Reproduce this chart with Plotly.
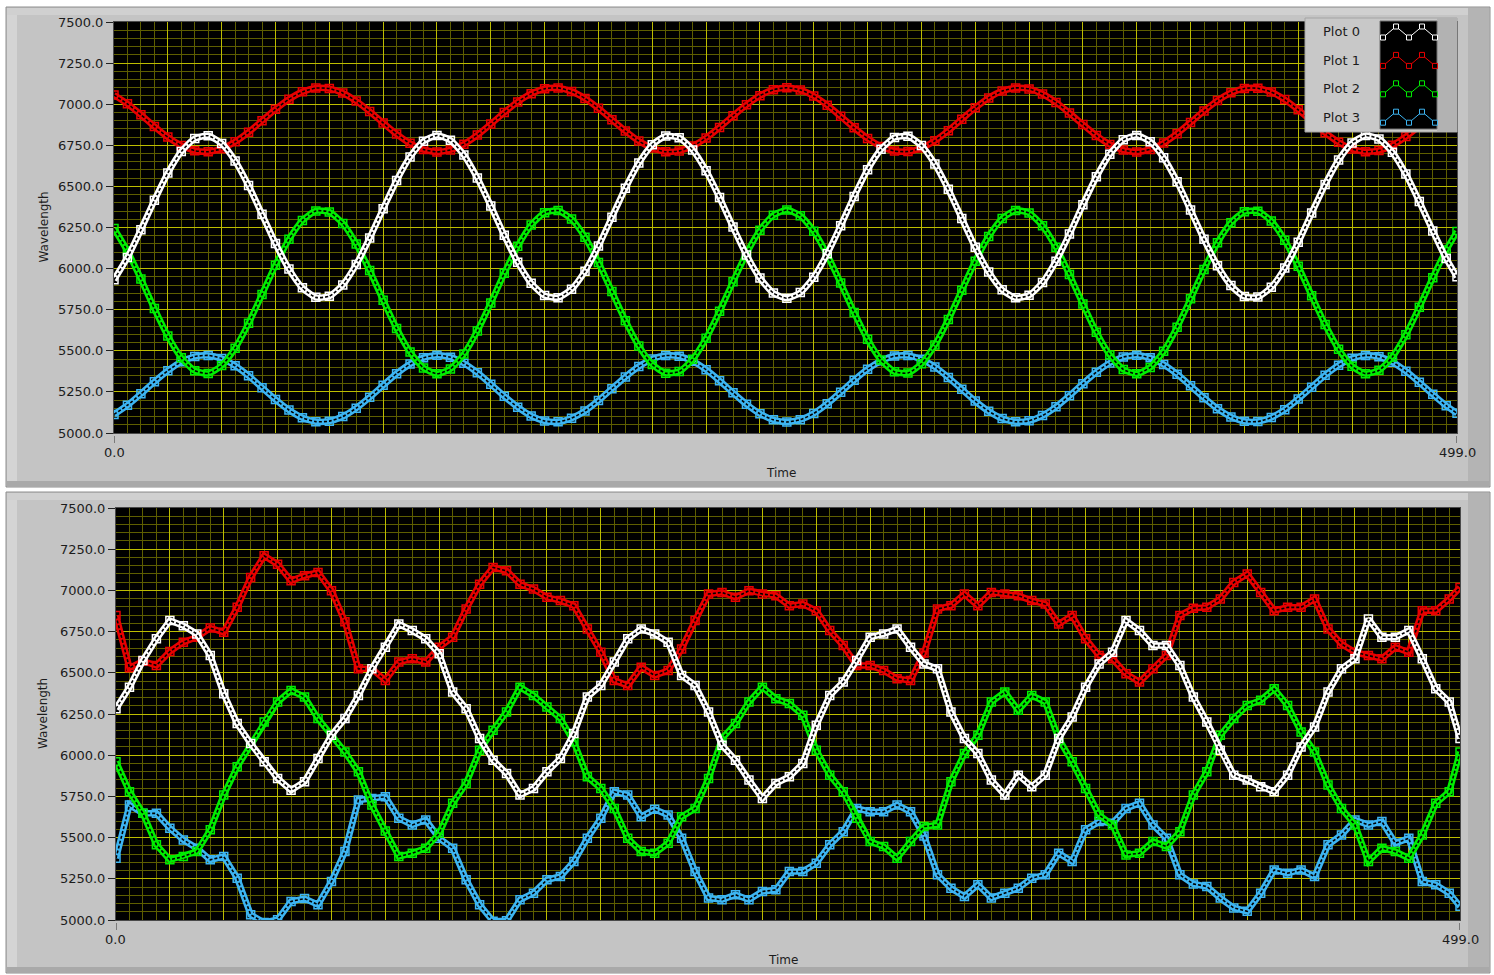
import plotly.graph_objects as go

# ---------------- data ----------------
TIME = [0, 5, 10, 15, 20, 25, 30, 35, 40, 45,
        50, 55, 60, 65, 70, 75, 80, 85, 90, 95,
        100, 105, 110, 115, 120, 125, 130, 135, 140, 145,
        150, 155, 160, 165, 170, 175, 180, 185, 190, 195,
        200, 205, 210, 215, 220, 225, 230, 235, 240, 245,
        250, 255, 260, 265, 270, 275, 280, 285, 290, 295,
        300, 305, 310, 315, 320, 325, 330, 335, 340, 345,
        350, 355, 360, 365, 370, 375, 380, 385, 390, 395,
        400, 405, 410, 415, 420, 425, 430, 435, 440, 445,
        450, 455, 460, 465, 470, 475, 480, 485, 490, 495,
        499]

TOP_PLOT0 = [5932, 6068, 6237, 6415, 6581, 6712, 6791, 6808, 6761, 6655,
             6505, 6330, 6153, 5997, 5883, 5825, 5832, 5901, 6025, 6186,
             6364, 6536, 6679, 6775, 6810, 6781, 6691, 6551, 6381, 6203,
             6039, 5911, 5836, 5823, 5875, 5984, 6137, 6313, 6489, 6642,
             6753, 6806, 6796, 6722, 6595, 6432, 6253, 6083, 5943, 5851,
             5820, 5854, 5948, 6090, 6261, 6439, 6602, 6726, 6797, 6805,
             6749, 6636, 6482, 6305, 6130, 5979, 5871, 5822, 5838, 5915,
             6045, 6210, 6389, 6558, 6696, 6783, 6810, 6772, 6674, 6529,
             6356, 6178, 6018, 5897, 5830, 5827, 5887, 6003, 6160, 6338,
             6512, 6660, 6764, 6809, 6789, 6707, 6575, 6408, 6229, 6061,
             5950]
TOP_PLOT1 = [7056, 7002, 6936, 6865, 6800, 6749, 6717, 6711, 6729, 6771,
             6830, 6899, 6969, 7030, 7075, 7098, 7095, 7068, 7019, 6956,
             6886, 6818, 6762, 6724, 6710, 6722, 6757, 6812, 6879, 6949,
             7014, 7064, 7094, 7099, 7078, 7035, 6975, 6906, 6837, 6776,
             6733, 6711, 6716, 6745, 6795, 6859, 6929, 6996, 7052, 7088,
             7100, 7087, 7050, 6994, 6926, 6856, 6792, 6743, 6715, 6712,
             6734, 6778, 6839, 6909, 6978, 7038, 7080, 7099, 7093, 7062,
             7011, 6946, 6876, 6809, 6755, 6721, 6710, 6725, 6764, 6821,
             6889, 6959, 7022, 7070, 7096, 7097, 7074, 7028, 6966, 6896,
             6827, 6769, 6728, 6711, 6718, 6750, 6803, 6868, 6939, 7005,
             7049]
TOP_PLOT2 = [6244, 6107, 5937, 5757, 5590, 5458, 5379, 5362, 5410, 5516,
             5667, 5843, 6021, 6178, 6293, 6351, 6344, 6275, 6150, 5988,
             5808, 5635, 5492, 5396, 5360, 5390, 5480, 5620, 5791, 5971,
             6136, 6265, 6340, 6353, 6301, 6191, 6037, 5860, 5683, 5529,
             5417, 5364, 5374, 5448, 5576, 5740, 5920, 6092, 6233, 6325,
             6356, 6322, 6227, 6085, 5912, 5733, 5570, 5444, 5373, 5365,
             5421, 5535, 5690, 5868, 6045, 6196, 6304, 6354, 6338, 6260,
             6130, 5964, 5784, 5613, 5475, 5387, 5360, 5399, 5497, 5643,
             5816, 5995, 6157, 6279, 6346, 6349, 6289, 6172, 6014, 5835,
             5660, 5510, 5406, 5361, 5381, 5463, 5597, 5765, 5945, 6113,
             6225]
TOP_PLOT3 = [5113, 5169, 5238, 5311, 5379, 5433, 5465, 5472, 5453, 5409,
             5348, 5276, 5204, 5140, 5093, 5069, 5072, 5100, 5151, 5217,
             5290, 5361, 5419, 5458, 5473, 5461, 5424, 5367, 5297, 5224,
             5157, 5104, 5073, 5068, 5090, 5134, 5197, 5269, 5341, 5404,
             5450, 5471, 5467, 5437, 5385, 5318, 5245, 5175, 5117, 5080,
             5067, 5081, 5119, 5178, 5248, 5321, 5388, 5439, 5468, 5471,
             5448, 5402, 5338, 5266, 5194, 5132, 5088, 5068, 5074, 5106,
             5159, 5227, 5300, 5370, 5426, 5462, 5473, 5457, 5417, 5358,
             5287, 5214, 5148, 5098, 5071, 5070, 5094, 5142, 5207, 5279,
             5351, 5412, 5454, 5472, 5464, 5431, 5376, 5308, 5235, 5166,
             5120]

BOTTOM_PLOT0 = [6282, 6413, 6575, 6706, 6817, 6786, 6736, 6605, 6373, 6192,
                6071, 5960, 5859, 5788, 5839, 5980, 6121, 6222, 6363, 6524,
                6655, 6796, 6756, 6706, 6615, 6383, 6282, 6101, 5970, 5889,
                5758, 5798, 5899, 5980, 6131, 6353, 6423, 6565, 6706, 6766,
                6736, 6686, 6484, 6423, 6262, 6061, 5970, 5849, 5738, 5829,
                5869, 5950, 6182, 6363, 6444, 6575, 6716, 6736, 6766, 6655,
                6554, 6524, 6262, 6101, 6010, 5849, 5758, 5879, 5809, 5879,
                6101, 6232, 6413, 6554, 6625, 6817, 6756, 6665, 6665, 6544,
                6353, 6202, 6030, 5879, 5849, 5809, 5778, 5879, 6050, 6171,
                6383, 6524, 6585, 6827, 6716, 6716, 6756, 6585, 6403, 6323,
                6101]
BOTTOM_PLOT1 = [6847, 6530, 6570, 6545, 6629, 6686, 6716, 6772, 6746, 6897,
                7079, 7210, 7159, 7058, 7089, 7109, 6998, 6810, 6524, 6524,
                6454, 6565, 6585, 6565, 6655, 6716, 6887, 7038, 7139, 7119,
                7038, 7008, 6958, 6938, 6907, 6766, 6625, 6454, 6423, 6534,
                6484, 6514, 6645, 6817, 6978, 6988, 6958, 6998, 6978, 6968,
                6907, 6917, 6877, 6756, 6665, 6544, 6544, 6514, 6464, 6454,
                6620, 6887, 6907, 6978, 6907, 6988, 6978, 6968, 6938, 6917,
                6796, 6847, 6706, 6605, 6585, 6494, 6444, 6524, 6605, 6847,
                6892, 6897, 6948, 7048, 7099, 6988, 6877, 6897, 6897, 6948,
                6766, 6675, 6625, 6605, 6585, 6655, 6625, 6877, 6877, 6948,
                7018]
BOTTOM_PLOT2 = [5960, 5778, 5647, 5456, 5365, 5385, 5415, 5547, 5758, 5930,
                6061, 6202, 6323, 6393, 6353, 6222, 6121, 6020, 5899, 5698,
                5540, 5385, 5405, 5436, 5526, 5708, 5829, 6030, 6151, 6262,
                6413, 6363, 6292, 6222, 6081, 5869, 5798, 5677, 5496, 5415,
                5405, 5466, 5627, 5677, 5859, 6101, 6192, 6323, 6413, 6343,
                6313, 6242, 6030, 5879, 5778, 5617, 5476, 5446, 5375, 5476,
                5567, 5577, 5839, 6010, 6121, 6323, 6383, 6272, 6363, 6323,
                6101, 5960, 5798, 5637, 5577, 5395, 5405, 5476, 5446, 5536,
                5758, 5899, 6121, 6222, 6302, 6333, 6403, 6302, 6141, 6020,
                5819, 5677, 5577, 5355, 5436, 5415, 5375, 5516, 5708, 5778,
                6020]
BOTTOM_PLOT3 = [5375, 5698, 5647, 5647, 5557, 5486, 5436, 5365, 5385, 5254,
                5032, 4985, 5002, 5113, 5130, 5093, 5234, 5415, 5728, 5738,
                5748, 5617, 5577, 5607, 5496, 5436, 5244, 5093, 4992, 4995,
                5123, 5163, 5244, 5264, 5355, 5496, 5617, 5778, 5758, 5627,
                5672, 5637, 5496, 5294, 5133, 5123, 5153, 5123, 5173, 5183,
                5294, 5294, 5345, 5456, 5536, 5677, 5657, 5657, 5698, 5657,
                5510, 5274, 5193, 5143, 5214, 5133, 5163, 5193, 5254, 5274,
                5405, 5355, 5547, 5597, 5587, 5677, 5708, 5577, 5496, 5274,
                5219, 5203, 5133, 5073, 5053, 5163, 5304, 5284, 5304, 5264,
                5456, 5516, 5607, 5577, 5597, 5466, 5496, 5234, 5214, 5163,
                5083]

SERIES_NAMES = ["Plot 0", "Plot 1", "Plot 2", "Plot 3"]
SERIES_COLORS = ["#ffffff", "#e80000", "#00ee00", "#3db5f2"]
X_RANGE = [0, 499]
X_TICK_LABELS = ["0.0", "499.0"]
Y_RANGE = [5000, 7500]
AXIS_TITLE_X = "Time"
AXIS_TITLE_Y = "Wavelength"
LEGEND_GLYPH_SHAPE = [0, 1, 0, 1, 0]

# ---------------- layout helpers ----------------
W, H = 1494, 975
def fx(p):
    return p / W
def fy(p):
    return 1 - p / H

MAJOR = "#bdbd00"
MINOR = "#5e5e00"
FONT = "DejaVu Sans"
TXT = "#1c1c1c"

fig = go.Figure()

top_series = [TOP_PLOT0, TOP_PLOT1, TOP_PLOT2, TOP_PLOT3]
bottom_series = [BOTTOM_PLOT0, BOTTOM_PLOT1, BOTTOM_PLOT2, BOTTOM_PLOT3]

for axes, data, shape in ((("x", "y"), top_series, "spline"), (("x2", "y2"), bottom_series, "linear")):
    for i in (3, 2, 1, 0):
        # outer band of the "hollow square chain"
        fig.add_trace(go.Scatter(
            x=TIME, y=data[i], name=SERIES_NAMES[i],
            mode="lines+markers",
            line=dict(color=SERIES_COLORS[i], width=6.5, shape=shape, smoothing=0.6),
            marker=dict(symbol="square-open", size=8, color=SERIES_COLORS[i],
                        line=dict(width=1.5, color=SERIES_COLORS[i])),
            xaxis=axes[0], yaxis=axes[1], showlegend=False, hoverinfo="skip"))
        # dark hollow core
        fig.add_trace(go.Scatter(
            x=TIME, y=data[i], name=SERIES_NAMES[i],
            mode="lines",
            line=dict(color="#000000", width=1.6, shape=shape, smoothing=0.6, dash="3px,2px"),
            xaxis=axes[0], yaxis=axes[1], showlegend=False, hoverinfo="skip"))

# plot-area geometry (pixels)
PLOTS = [dict(l=114, r=1457, t=22, b=433, xa="x", ya="y", tx=781, ty=473),
         dict(l=116, r=1460, t=508, b=920, xa="x2", ya="y2", tx=783, ty=960)]
PANELS = [(6, 7, 1490, 487), (6, 492, 1490, 973)]

shapes = []
for (x0, y0, x1, y1) in PANELS:
    shapes.append(dict(type="rect", xref="paper", yref="paper", layer="below",
                       x0=fx(x0), x1=fx(x1), y0=fy(y1), y1=fy(y0),
                       fillcolor="#c4c4c4", line=dict(color="#8e8e8e", width=1)))
    shapes.append(dict(type="rect", xref="paper", yref="paper", layer="below",
                       x0=fx(x0 + 1), x1=fx(x0 + 11), y0=fy(y1 - 1), y1=fy(y0 + 1),
                       fillcolor="#d4d4d4", line=dict(width=0)))
    shapes.append(dict(type="rect", xref="paper", yref="paper", layer="below",
                       x0=fx(x0 + 1), x1=fx(x1 - 1), y0=fy(y0 + 8), y1=fy(y0 + 1),
                       fillcolor="#d0d0d0", line=dict(width=0)))
    shapes.append(dict(type="rect", xref="paper", yref="paper", layer="below",
                       x0=fx(x1 - 22), x1=fx(x1 - 1), y0=fy(y1 - 1), y1=fy(y0 + 1),
                       fillcolor="#b4b4b4", line=dict(width=0)))
    shapes.append(dict(type="rect", xref="paper", yref="paper", layer="below",
                       x0=fx(x0 + 1), x1=fx(x1 - 1), y0=fy(y1 - 1), y1=fy(y1 - 6),
                       fillcolor="#a9a9a9", line=dict(width=0)))
for p in PLOTS:
    shapes.append(dict(type="rect", xref="paper", yref="paper", layer="below",
                       x0=fx(p["l"]), x1=fx(p["r"]), y0=fy(p["b"]), y1=fy(p["t"]),
                       fillcolor="#000000", line=dict(width=0)))
    for xv in X_RANGE:
        shapes.append(dict(type="line", xref=p["xa"], yref=p["ya"] + " domain",
                           ysizemode="pixel", yanchor=0, x0=xv, x1=xv, y0=-3, y1=-10,
                           line=dict(color="#303030", width=1)))

# legend box (drawn above the plot)
LB = dict(l=1305, r=1457, t=18, b=132)
shapes.append(dict(type="rect", xref="paper", yref="paper", layer="above",
                   x0=fx(LB["l"]), x1=fx(LB["r"]), y0=fy(LB["b"]), y1=fy(LB["t"]),
                   fillcolor="#c8c8c8", line=dict(color="#a4a4a4", width=1)))
shapes.append(dict(type="rect", xref="paper", yref="paper", layer="above",
                   x0=fx(1437), x1=fx(LB["r"]), y0=fy(LB["b"]), y1=fy(LB["t"]),
                   fillcolor="#b2b2b2", line=dict(width=0)))
shapes.append(dict(type="rect", xref="paper", yref="paper", layer="above",
                   x0=fx(1380), x1=fx(1437), y0=fy(129), y1=fy(21),
                   fillcolor="#000000", line=dict(color="#707070", width=1)))
annotations = []
gx = [1383 + 13 * k for k in range(len(LEGEND_GLYPH_SHAPE))]
for i, name in enumerate(SERIES_NAMES):
    cy = 32 + 28.4 * i
    gy = [cy + 5.5 - 11 * s for s in LEGEND_GLYPH_SHAPE]
    path = "M " + " L ".join(f"{fx(a):.5f},{fy(b):.5f}" for a, b in zip(gx, gy))
    shapes.append(dict(type="path", xref="paper", yref="paper", layer="above",
                       path=path, line=dict(color=SERIES_COLORS[i], width=1)))
    for a, b in zip(gx, gy):
        shapes.append(dict(type="rect", xref="paper", yref="paper", layer="above",
                           x0=fx(a - 2.5), x1=fx(a + 2.5), y0=fy(b + 2.5), y1=fy(b - 2.5),
                           fillcolor="#000000", line=dict(color=SERIES_COLORS[i], width=1)))
    annotations.append(dict(text=name, xref="paper", yref="paper", x=fx(1341), y=fy(cy),
                            showarrow=False, xanchor="center", yanchor="middle",
                            font=dict(family=FONT, size=13, color=TXT)))

for p in PLOTS:
    annotations.append(dict(text=AXIS_TITLE_X, xref="paper", yref="paper",
                            x=fx(p["tx"]), y=fy(p["ty"]), showarrow=False,
                            xanchor="center", yanchor="middle",
                            font=dict(family=FONT, size=12, color=TXT)))
    annotations.append(dict(text=AXIS_TITLE_Y, xref="paper", yref="paper",
                            x=fx(43), y=fy((p["t"] + p["b"]) / 2), showarrow=False,
                            textangle=-90, xanchor="center", yanchor="middle",
                            font=dict(family=FONT, size=12, color=TXT)))
    for xv, lab in zip(X_RANGE, X_TICK_LABELS):
        annotations.append(dict(text=lab, xref=p["xa"], yref="paper", x=xv,
                                y=fy(p["b"] + 19), showarrow=False,
                                xanchor="center", yanchor="middle",
                                font=dict(family=FONT, size=13, color=TXT)))

def xax(p):
    return dict(domain=[fx(p["l"]), fx(p["r"])], range=X_RANGE, anchor=p["ya"],
                automargin=False,
                tickmode="linear", tick0=0, dtick=20, showticklabels=False, ticks="",
                showgrid=True, gridcolor=MAJOR, gridwidth=1, zeroline=False,
                minor=dict(tickmode="linear", tick0=0, dtick=5, showgrid=True,
                           gridcolor=MINOR, gridwidth=1, ticks=""),
                showline=True, linecolor="#4a4a4a", linewidth=1, mirror=True)

def yax(p):
    return dict(domain=[fy(p["b"]), fy(p["t"])], range=Y_RANGE, anchor=p["xa"],
                automargin=False,
                tickmode="linear", tick0=5000, dtick=250, tickformat=".1f",
                ticks="outside", ticklen=7, tickcolor="#222222", tickwidth=1,
                tickfont=dict(family=FONT, size=13, color=TXT),
                showgrid=True, gridcolor=MAJOR, gridwidth=1, zeroline=False,
                minor=dict(tickmode="linear", tick0=5000, dtick=50, showgrid=True,
                           gridcolor=MINOR, gridwidth=1, ticks=""),
                showline=True, linecolor="#4a4a4a", linewidth=1, mirror=True)

fig.update_layout(
    width=W, height=H, autosize=False,
    margin=dict(l=0, r=0, t=0, b=0, pad=0, autoexpand=False),
    paper_bgcolor="#ffffff", plot_bgcolor="rgba(0,0,0,0)",
    showlegend=False, hovermode=False,
    xaxis=xax(PLOTS[0]), yaxis=yax(PLOTS[0]),
    xaxis2=xax(PLOTS[1]), yaxis2=yax(PLOTS[1]),
    shapes=shapes, annotations=annotations,
    font=dict(family=FONT, size=13, color=TXT),
)

POST = ("document.documentElement.style.margin='0';"
        "document.body.style.margin='0';"
        "document.documentElement.style.overflow='hidden';"
        "document.body.style.overflow='hidden';")
fig.write_html("out.html", config={"displayModeBar": False}, post_script=POST)
